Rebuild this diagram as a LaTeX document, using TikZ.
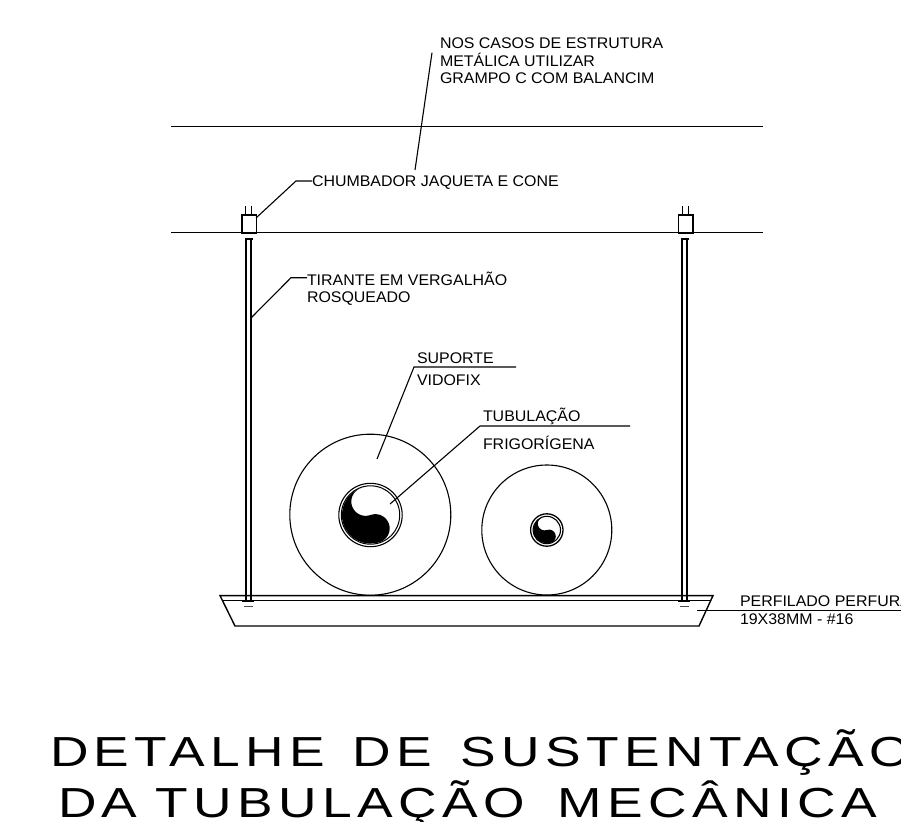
\documentclass[tikz,border=0pt]{standalone}
\usepackage{fontspec}
\setmainfont{Liberation Sans}[FakeStretch=1.035]
\newfontfamily\titlefont[FakeStretch=1.27,LetterSpace=13,WordSpace=1.385]{Liberation Sans}
\tikzset{
  ln/.style={line width=1.4pt,black},
  thin ln/.style={line width=1.1pt,black},
  lab/.style={anchor=base west,inner sep=0pt,outer sep=0pt,font=\fontsize{15.4}{15.4}\selectfont},
  ttl/.style={anchor=base west,inner sep=0pt,outer sep=0pt,font=\titlefont\fontsize{42}{42}\selectfont},
  yy/.pic={
    \begin{scope}[y=1pt]
    \fill[black] ({#1*cos(110)},{#1*sin(110)}) arc[start angle=110,end angle=290,radius=#1]
      arc[start angle=290,end angle=470,radius=#1/2]
      arc[start angle=290,end angle=110,radius=#1/2] -- cycle;
    \end{scope}
  }
}
\begin{document}
\begin{tikzpicture}[x=1pt,y=-1pt,line cap=butt]
\useasboundingbox (0,0) rectangle (901,821);
\clip (0,0) rectangle (901,821);
% slabs
\coordinate (s1l) at (171,126.5); \coordinate (s1r) at (763,126.5);
\coordinate (s2l) at (171,232.4); \coordinate (s2r) at (763,232.4);
\draw[ln] (s1l) -- (s1r);
\draw[ln] (s2l) -- (s2r);
% anchors
\node[draw,line width=1.4pt,minimum width=14.5pt,minimum height=18.5pt,inner sep=0pt,anchor=north west] (ancL) at (241.3,214.2) {};
\node[draw,line width=1.4pt,minimum width=14.5pt,minimum height=18.5pt,inner sep=0pt,anchor=north west] (ancR) at (677.8,214.2) {};
\draw[thin ln] (245.5,206) -- (245.5,214) (251.5,206) -- (251.5,214);
\draw[thin ln] (682.5,206) -- (682.5,214) (688.5,206) -- (688.5,214);
% rods
\draw[line width=1.8pt] (246,239) -- (246,601);
\draw[line width=1.2pt] (251,239) -- (251,601);
\draw[line width=1.2pt] (244.5,239) -- (252.5,239);
\draw[line width=1.8pt] (682,239) -- (682,601);
\draw[line width=1.2pt] (687,239) -- (687,601);
\draw[line width=1.2pt] (680.5,239) -- (688.5,239);
% tray
\coordinate (tTL) at (220,595.6); \coordinate (tTR) at (713,595.6);
\coordinate (tBL) at (235,626); \coordinate (tBR) at (699,626);
\draw[ln] (tTL) -- (tTR) -- (tBR) -- (tBL) -- cycle;
\draw[ln] (222.5,600.7) -- (710.5,600.7);
\draw[line width=1.2pt] (242,601) -- (254,601) (678,601) -- (690,601);
\draw[line width=1.2pt,black!70] (244,606.8) -- (253,606.8) (680,606.8) -- (689,606.8);
% circles
\node[circle,draw,line width=1.1pt,minimum size=161pt,inner sep=0pt] (big) at (370.3,514.7) {};
\node[circle,draw,line width=1.1pt,minimum size=130pt,inner sep=0pt] (small) at (546.8,530) {};
\node[circle,draw,line width=1.1pt,minimum size=63.4pt,inner sep=0pt] (pipeA) at (370.5,515) {};
\node[circle,draw,line width=1pt,minimum size=58.4pt,inner sep=0pt] (pipeAi) at (370.5,515) {};
\pic at (370.5,515) {yy=28.6};
\node[circle,draw,line width=1.3pt,minimum size=32.4pt,inner sep=0pt] (pipeB) at (546.8,530) {};
\node[circle,draw,line width=1.1pt,minimum size=27.4pt,inner sep=0pt] (pipeBi) at (546.8,530) {};
\pic at (546.8,530) {yy=13.4};
% labels
\node[lab] (t1a) at (440,48.2) {NOS CASOS DE ESTRUTURA};
\node[lab] (t1b) at (440,66.8) {METÁLICA UTILIZAR};
\node[lab] (t1c) at (440,83.6) {GRAMPO C COM BALANCIM};
\node[lab] (t2) at (312,186.5) {CHUMBADOR JAQUETA E CONE};
\node[lab] (t3a) at (307,285.5) {TIRANTE EM VERGALHÃO};
\node[lab] (t3b) at (307,302.5) {ROSQUEADO};
\node[lab] (t4a) at (417,363.5) {SUPORTE};
\node[lab] (t4b) at (417,385.5) {VIDOFIX};
\node[lab] (t5a) at (483,421.5) {TUBULAÇÃO};
\node[lab] (t5b) at (483,449.5) {FRIGORÍGENA};
\node[lab] (t6a) at (740,606) {PERFILADO PERFURADO};
\node[lab] (t6b) at (740,624) {19X38MM - \#16};
% leaders
\coordinate (l1a) at (432,52.7); \coordinate (l1b) at (415,170);
\draw[thin ln] (l1a) -- (l1b);
\coordinate (l2a) at (256,218); \coordinate (l2b) at (296,181);
\draw[thin ln] (l2a) -- (l2b) -- (t2.west |- l2b);
\coordinate (l3a) at (251,318); \coordinate (l3b) at (291,277.7);
\draw[thin ln] (l3a) -- (l3b) -- (t3a.west |- l3b);
\coordinate (l4a) at (377,459); \coordinate (l4b) at (414,367); \coordinate (l4c) at (516,367);
\draw[thin ln] (l4a) -- (l4b) -- (l4c);
\coordinate (l5a) at (390,504); \coordinate (l5b) at (480,426); \coordinate (l5c) at (630,426);
\draw[thin ln] (l5a) -- (l5b) -- (l5c);
\coordinate (l6a) at (697,610.7); \coordinate (l6b) at (901,610.7);
\draw[thin ln] (l6a) -- (l6b);
% title
\node[ttl] (ttl1) at (50,766.5) {DETALHE DE SUSTENTAÇÃO};
\node[ttl] (ttl2) at (58,817.5) {DA\kern-10pt{} TUBULAÇÃO\kern4pt{} MECÂNICA};
\end{tikzpicture}
\end{document}
